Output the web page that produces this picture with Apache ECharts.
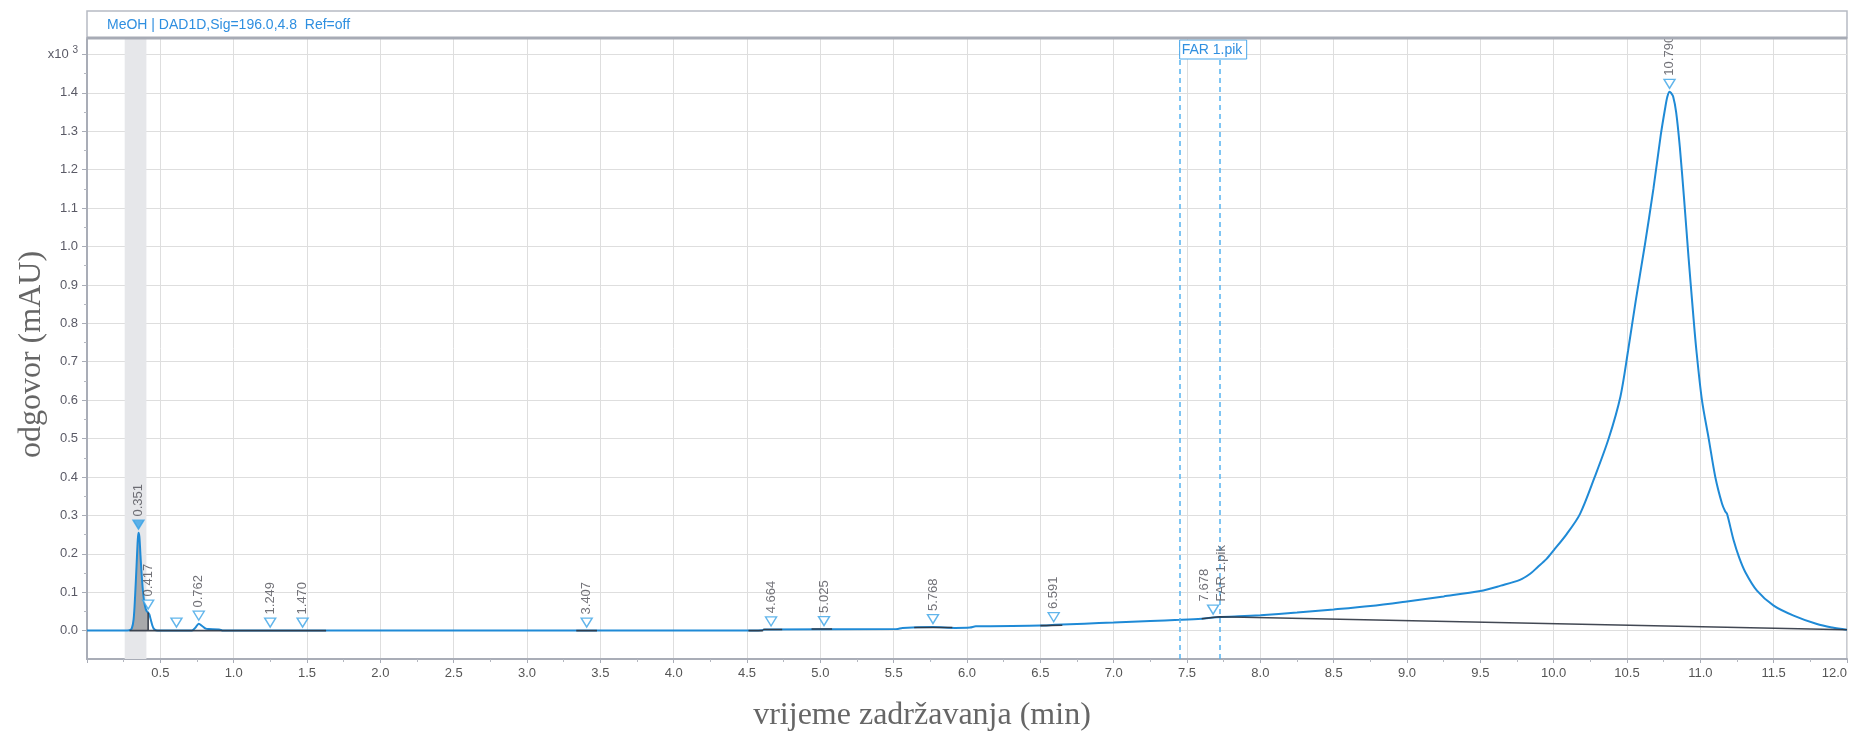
<!DOCTYPE html>
<html>
<head>
<meta charset="utf-8">
<title>MeOH | DAD1D</title>
<script src="https://cdn.jsdelivr.net/npm/echarts@6/dist/echarts.min.js"></script>
<style>
  html, body { margin: 0; padding: 0; background: #ffffff; }
  #chart { width: 1856px; height: 731px; }
</style>
</head>
<body>
<div id="chart"></div>
<script>
// Retention time (min) of the DAD1D trace, Sig=196.0,4.8
const timeMin = [
  0, 0.25, 0.29, 0.305, 0.318, 0.328, 0.338, 0.346, 0.351, 0.357, 0.364, 0.372,
  0.381, 0.39, 0.40, 0.41, 0.417, 0.425, 0.435, 0.445, 0.455, 0.47, 0.5,
  0.715, 0.74, 0.762, 0.785, 0.81, 0.83, 0.90, 0.93,
  4.55, 4.6, 4.62, 5.52, 5.56, 5.77, 5.92, 6.02, 6.06, 6.5, 6.6, 6.8,
  7.0, 7.25, 7.45, 7.6, 7.7, 7.85, 8.0, 8.25, 8.5, 8.75, 9.0, 9.25, 9.5,
  9.64, 9.77, 9.84, 9.89, 9.95, 10.0, 10.09, 10.18, 10.28, 10.375, 10.455,
  10.507, 10.56, 10.62, 10.68, 10.73, 10.76, 10.775, 10.79, 10.80, 10.815,
  10.835, 10.86, 10.89, 10.92, 10.95, 10.973, 11.011, 11.057, 11.102, 11.148,
  11.17, 11.182, 11.227, 11.265, 11.307, 11.386, 11.5, 11.636, 11.795, 11.9, 12.0
];
// Detector response (x10^3 mAU) at each retention time
const response = [
  0, 0, 0.001, 0.005, 0.03, 0.09, 0.17, 0.235, 0.255, 0.245, 0.2, 0.15,
  0.105, 0.075, 0.057, 0.049, 0.047, 0.042, 0.028, 0.014, 0.005, 0.001, 0,
  0, 0.008, 0.018, 0.012, 0.005, 0.004, 0.003, 0,
  0, 0.001, 0.003, 0.004, 0.007, 0.009, 0.007, 0.008, 0.011, 0.013, 0.015, 0.018,
  0.021, 0.025, 0.028, 0.031, 0.035, 0.037, 0.040, 0.047, 0.055, 0.064, 0.076, 0.089, 0.103,
  0.117, 0.132, 0.148, 0.165, 0.186, 0.209, 0.252, 0.304, 0.40, 0.50, 0.609,
  0.728, 0.86, 1.0, 1.15, 1.29, 1.36, 1.39, 1.403, 1.40, 1.39,
  1.35, 1.26, 1.12, 0.97, 0.83, 0.73, 0.6, 0.5, 0.4, 0.33,
  0.31, 0.304, 0.235, 0.19, 0.152, 0.104, 0.065, 0.039, 0.017, 0.008, 0.002
];

// Integrated peaks: apex retention time, apex height, annotation
const peakTimes   = [0.351, 0.417, 0.61, 0.762, 1.249, 1.470, 3.407, 4.664, 5.025, 5.768, 6.591, 7.678, 10.790];
const peakHeights = [0.255, 0.047, 0, 0.018, 0, 0, 0, 0.003, 0.004, 0.009, 0.014, 0.034, 1.403];
const peakLabels  = ['0.351', '0.417', '', '0.762', '1.249', '1.470', '3.407', '4.664', '5.025', '5.768', '6.591', '7.678\nFAR 1.pik', '10.790'];

// Integration baselines [t0, v0, t1, v1]
const baselineSegments = [
  [0.29, 0, 1.63, 0],
  [0.417, 0, 0.417, 0.047],
  [3.336, 0, 3.477, 0],
  [4.51, 0, 4.61, 0],
  [4.61, 0.003, 4.74, 0.003],
  [4.94, 0.004, 5.08, 0.004],
  [5.64, 0.008, 5.90, 0.008],
  [6.50, 0.013, 6.65, 0.014],
  [7.60, 0.031, 7.72, 0.036],
  [7.72, 0.036, 12.0, 0.002]
];

// Shaded area of the first peak (min)
const firstPeakWindow = [0.29, 0.417];
// Solvent front window (min)
const solventWindow = [0.257, 0.405];
// Peak window "FAR 1.pik" (min)
const farWindow = [7.45, 7.72];

// Axis ticks
const yTicks = [0, 0.1, 0.2, 0.3, 0.4, 0.5, 0.6, 0.7, 0.8, 0.9, 1.0, 1.1, 1.2, 1.3, 1.4, 1.5];
const yMinorTicks = [0.05, 0.15, 0.25, 0.35, 0.45, 0.55, 0.65, 0.75, 0.85, 0.95, 1.05, 1.15, 1.25, 1.35, 1.45];
const xRange = [0, 12];
const yRange = [-0.074, 1.543];

const headerText = 'MeOH | DAD1D,Sig=196.0,4.8  Ref=off';

const BLUE = '#1f8ad6';
const MARK_BLUE = '#3aa3e6';
const SANS = '"Liberation Sans", Arial, sans-serif';
const SERIF = '"Liberation Serif", "Times New Roman", serif';

const signal = timeMin.map((t, i) => [t, response[i]]);
const firstPeakFill = signal.filter(p => p[0] >= firstPeakWindow[0] && p[0] <= firstPeakWindow[1]);
const baselineData = [];
baselineSegments.forEach(s => {
  baselineData.push([s[0], s[1]], [s[2], s[3]], [null, null]);
});
const peakData = peakTimes.map((t, i) => ({
  value: [t, peakHeights[i]],
  itemStyle: i === 0 ? { color: MARK_BLUE, borderColor: MARK_BLUE } : undefined
}));

const chart = echarts.init(document.getElementById('chart'), null, { renderer: 'canvas' });

const GRID = { left: 87, right: 9, top: 38, bottom: 72 };

chart.setOption({
  animation: false,
  backgroundColor: '#ffffff',
  grid: {
    left: GRID.left, right: GRID.right, top: GRID.top, bottom: GRID.bottom,
    containLabel: false,
    outerBoundsMode: 'none',
    show: true, borderColor: '#b7bac3', borderWidth: 1.5, backgroundColor: 'transparent'
  },
  xAxis: {
    type: 'value',
    min: xRange[0], max: xRange[1], interval: 0.5,
    name: 'vrijeme zadržavanja (min)',
    nameLocation: 'middle',
    nameGap: 41,
    nameMoveOverlap: false,
    nameTextStyle: { fontFamily: SERIF, fontSize: 32, color: '#666666', padding: [0, 90, 0, 0] },
    axisLine: { show: true, onZero: false, lineStyle: { color: '#a9adb7', width: 2 } },
    axisTick: { show: true, length: 4, lineStyle: { color: '#a9adb7' } },
    minorTick: { show: true, splitNumber: 2, length: 3, lineStyle: { color: '#b5b8c0' } },
    axisLabel: {
      margin: 8, fontFamily: SANS, fontSize: 13, color: '#555555',
      alignMaxLabel: 'right',
      formatter: v => (v === 0 ? '' : v.toFixed(1))
    },
    splitLine: { show: true, lineStyle: { color: '#dedede', width: 1 } }
  },
  yAxis: [
    {
      type: 'value',
      min: yRange[0], max: yRange[1],
      name: 'odgovor (mAU)',
      nameLocation: 'middle',
      nameGap: 39,
      nameMoveOverlap: false,
      nameTextStyle: { fontFamily: SERIF, fontSize: 32, color: '#666666', padding: [0, 12, 0, 0] },
      axisLine: { show: true, onZero: false, lineStyle: { color: '#a9adb7', width: 2 } },
      axisTick: { show: true, length: 5, customValues: yTicks, lineStyle: { color: '#a9adb7' } },
      axisLabel: {
        customValues: yTicks,
        margin: 9, fontFamily: SANS, fontSize: 13, color: '#5a5a66',
        formatter: v => (Math.abs(v - 1.5) < 1e-9 ? 'x10 {s|3}' : v.toFixed(1)),
        rich: { s: { fontFamily: SANS, fontSize: 10, color: '#5a5a66', padding: [0, 0, 8, 0] } }
      },
      splitLine: { show: true, lineStyle: { color: '#dedede', width: 1 } }
    },
    {
      type: 'value',
      min: yRange[0], max: yRange[1],
      position: 'left',
      axisLine: { show: false },
      axisTick: { show: true, length: 3, customValues: yMinorTicks, lineStyle: { color: '#b5b8c0' } },
      axisLabel: { show: false },
      splitLine: { show: false }
    }
  ],
  series: [
    {
      name: 'first peak area',
      type: 'line',
      data: firstPeakFill,
      showSymbol: false,
      silent: true,
      smooth: 0.3,
      z: 2,
      lineStyle: { width: 0 },
      areaStyle: { color: '#a4a5a8', opacity: 0.95 },
      markArea: {
        silent: true,
        itemStyle: { color: '#e6e7ea' },
        data: [[{ xAxis: solventWindow[0] }, { xAxis: solventWindow[1] }]]
      }
    },
    {
      name: 'DAD1D',
      type: 'line',
      data: signal,
      showSymbol: false,
      smooth: 0.3,
      z: 3,
      lineStyle: { color: BLUE, width: 2 },
      markLine: {
        silent: true,
        symbol: ['none', 'none'],
        label: { show: false },
        lineStyle: { color: '#55b3f0', width: 1.5, type: [5, 4] },
        data: [{ xAxis: farWindow[0] }, { xAxis: farWindow[1] }]
      }
    },
    {
      name: 'baseline',
      type: 'line',
      data: baselineData,
      connectNulls: false,
      showSymbol: false,
      z: 4,
      lineStyle: { color: '#2d3440', width: 1.6, opacity: 0.9 }
    },
    {
      name: 'peaks',
      type: 'scatter',
      data: peakData,
      z: 5,
      symbol: 'path://M0,0 L10,0 L5,8 Z',
      symbolSize: [11, 9],
      symbolOffset: [0, -8],
      itemStyle: { color: '#ffffff', borderColor: MARK_BLUE, borderWidth: 1.4 },
      label: {
        show: true,
        position: 'top',
        distance: 3,
        rotate: 90,
        align: 'left',
        verticalAlign: 'middle',
        fontFamily: SANS,
        fontSize: 13,
        lineHeight: 17,
        color: '#4d4d55',
        formatter: p => peakLabels[p.dataIndex]
      }
    }
  ]
});

// Header strip and the "FAR 1.pik" window tag, placed from the axis scales
function drawOverlays() {
  const x0 = chart.convertToPixel({ xAxisIndex: 0 }, xRange[0]);
  const x1 = chart.convertToPixel({ xAxisIndex: 0 }, xRange[1]);
  const farX = chart.convertToPixel({ xAxisIndex: 0 }, farWindow[0]);
  const top = GRID.top;
  chart.setOption({
    graphic: [
      {
        type: 'rect', z: 100, silent: true,
        shape: { x: x0, y: 11, width: x1 - x0, height: top - 11 },
        style: { fill: '#ffffff', stroke: '#b7bac3', lineWidth: 1.5 }
      },
      {
        type: 'line', z: 101, silent: true,
        shape: { x1: x0, y1: top, x2: x1, y2: top },
        style: { stroke: '#a7abb5', lineWidth: 3 }
      },
      {
        type: 'text', z: 102, silent: true,
        x: x0 + 20, y: 25,
        style: { text: headerText, fill: '#2f8fe0', font: '14px ' + SANS, textVerticalAlign: 'middle' }
      },
      {
        type: 'rect', z: 100, silent: true,
        shape: { x: farX, y: top + 2, width: 67, height: 19 },
        style: { fill: '#ffffff', stroke: '#4aa8ea', lineWidth: 1 }
      },
      {
        type: 'text', z: 102, silent: true,
        x: farX + 2, y: top + 12,
        style: { text: 'FAR 1.pik', fill: '#2f8fe0', font: '14px ' + SANS, textVerticalAlign: 'middle' }
      }
    ]
  });
}
drawOverlays();
</script>
</body>
</html>
